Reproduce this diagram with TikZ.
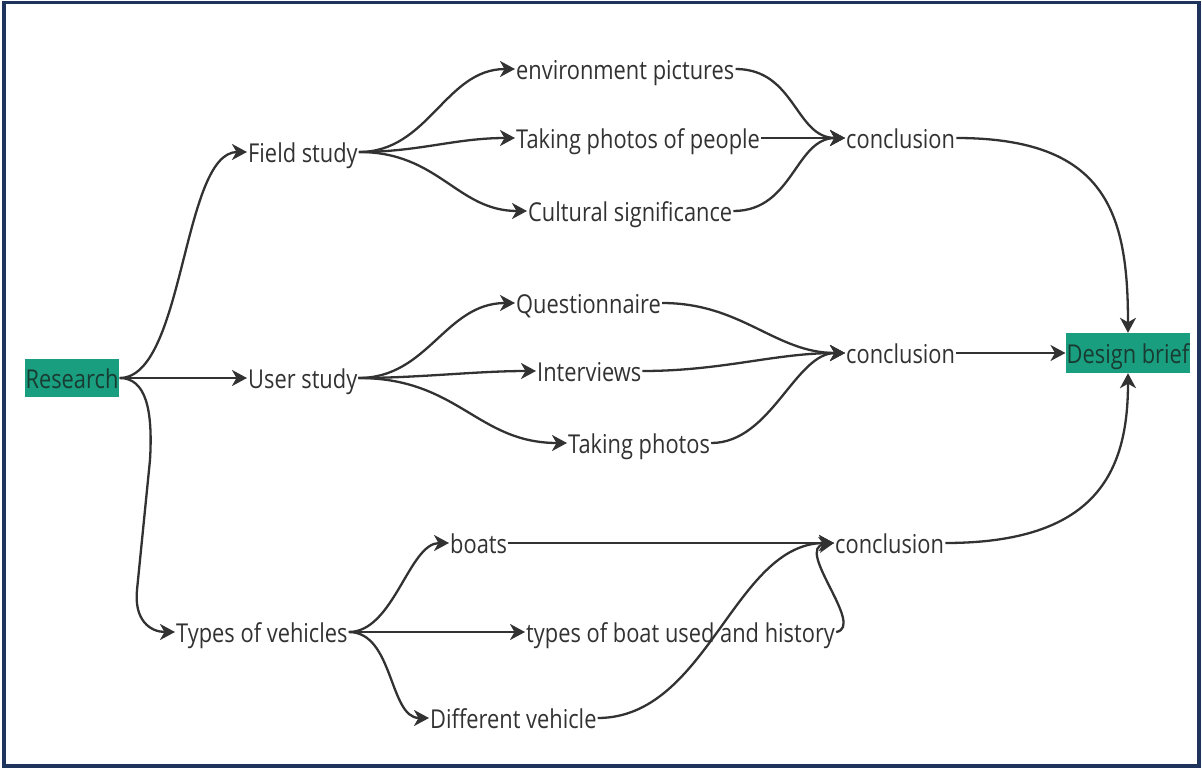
\documentclass[tikz,border=0pt]{standalone}
\usepackage{fontspec}
\setmainfont{Open Sans}[FakeStretch=0.84]
\usetikzlibrary{arrows.meta}
\definecolor{navy}{RGB}{30,52,92}
\definecolor{teal}{RGB}{26,158,128}
\definecolor{ink}{RGB}{50,50,50}
\definecolor{boxink}{RGB}{25,60,50}
\begin{document}
\begin{tikzpicture}[x=1pt,y=-1pt,
  txt/.style={inner xsep=1pt,inner ysep=2pt,text height=20pt,text depth=0pt,text=ink,font=\fontsize{26}{30}\selectfont},
  gbox/.style={fill=teal,inner xsep=1pt,inner ysep=4pt,text height=20pt,text depth=0pt,text=boxink,font=\fontsize{26}{30}\selectfont},
  conn/.style={draw=ink,line width=2.3pt,-{Stealth[length=15pt,width=16pt,inset=4.5pt]}}]
\useasboundingbox (0,0) rectangle (1202,768);
\draw[navy,line width=3.5pt] (4,2.5) rectangle (1199,766);
% nodes
\node[gbox,minimum width=91pt,minimum height=38pt] (res) at (72,378) {Research};
\node[gbox,minimum width=123pt,minimum height=40pt] (db) at (1128,353) {Design brief};
\node[txt,anchor=west] (fs) at (247,152) {Field study};
\node[txt,anchor=west] (us) at (247,378) {User study};
\node[txt,anchor=west] (tv) at (175,632) {Types of vehicles};
\node[txt,anchor=west] (ep) at (515,69) {environment pictures};
\node[txt,anchor=west] (tp) at (515,138) {Taking photos of people};
\node[txt,anchor=west] (cs) at (527,211) {Cultural significance};
\node[txt,anchor=west] (c1) at (845,138) {conclusion};
\node[txt,anchor=west] (qu) at (515,303) {Questionnaire};
\node[txt,anchor=west] (iv) at (536,371) {Interviews};
\node[txt,anchor=west] (ph) at (567,443) {Taking photos};
\node[txt,anchor=west] (c2) at (845,353) {conclusion};
\node[txt,anchor=west] (bo) at (449,543) {boats};
\node[txt,anchor=west] (tb) at (525,632) {types of boat used and history};
\node[txt,anchor=west] (dv) at (429,718) {Different vehicle};
\node[txt,anchor=west] (c3) at (834,543) {conclusion};
% research branches
\draw[conn] (res.east) .. controls +(65,0) and +(-65,0) .. (fs.west);
\draw[conn] (res.east) -- (us.west);
\draw[conn] (res.east) .. controls (146,378) and (153,410) .. (150,460)
  -- (137,590) .. controls (134,620) and (150,632) .. (tv.west);
% field study
\draw[conn] (fs.east) .. controls +(70,0) and +(-70,0) .. (ep.west);
\draw[conn] (fs.east) .. controls +(60,0) and +(-60,0) .. (tp.west);
\draw[conn] (fs.east) .. controls +(80,0) and +(-70,0) .. (cs.west);
\draw[conn] (ep.east) .. controls +(60,0) and +(-50,0) .. (c1.west);
\draw[conn] (tp.east) -- (c1.west);
\draw[conn] (cs.east) .. controls +(60,0) and +(-50,0) .. (c1.west);
% user study
\draw[conn] (us.east) .. controls +(70,0) and +(-70,0) .. (qu.west);
\draw[conn] (us.east) .. controls +(60,0) and +(-60,0) .. (iv.west);
\draw[conn] (us.east) .. controls +(100,0) and +(-90,0) .. (ph.west);
\draw[conn] (qu.east) .. controls +(80,0) and +(-70,0) .. (c2.west);
\draw[conn] (iv.east) .. controls +(80,0) and +(-70,0) .. (c2.west);
\draw[conn] (ph.east) .. controls +(60,0) and +(-50,0) .. (c2.west);
% vehicles
\draw[conn] (tv.east) .. controls +(45,0) and +(-40,0) .. (bo.west);
\draw[conn] (tv.east) -- (tb.west);
\draw[conn] (tv.east) .. controls +(45,0) and +(-40,0) .. (dv.west);
\draw[conn] (bo.east) -- (c3.west);
\draw[conn] (tb.east) .. controls +(30,-5) and +(-40,5) .. (c3.west);
\draw[conn] (dv.east) .. controls +(110,0) and +(-100,0) .. (c3.west);
% to design brief
\draw[conn] (c1.east) .. controls +(150,0) and +(0,-120) .. (db.north);
\draw[conn] (c2.east) -- (db.west);
\draw[conn] (c3.east) .. controls +(150,0) and +(0,100) .. (db.south);
\end{tikzpicture}
\end{document}
